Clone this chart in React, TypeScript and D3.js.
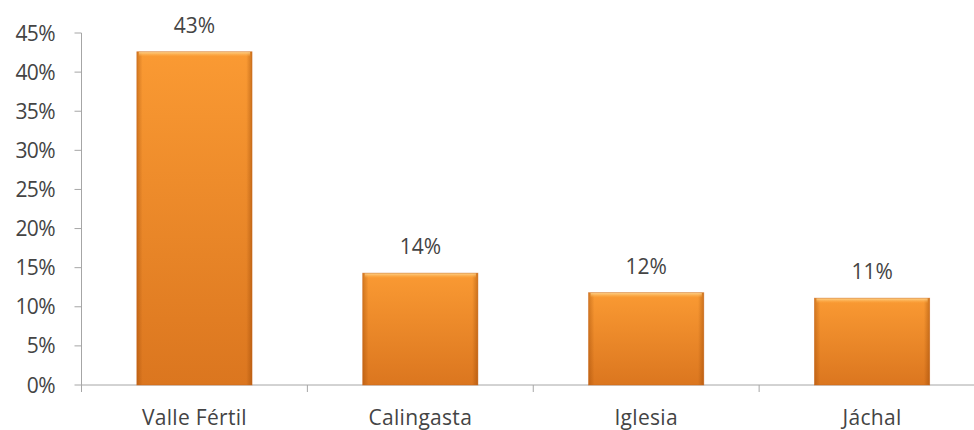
import React from "react";
import * as d3 from "d3";

const categories = ["Valle Fértil", "Calingasta", "Iglesia", "Jáchal"];
const values = [0.426, 0.143, 0.118, 0.111];
const valueLabels = ["43%", "14%", "12%", "11%"];
const yTicks = [0, 0.05, 0.1, 0.15, 0.2, 0.25, 0.3, 0.35, 0.4, 0.45];

const W = 974;
const H = 430;
const left = 81.5;
const right = 985;
const top = 33;
const bottom = 385;
const font = "'Open Sans', 'Noto Sans', sans-serif";

export default function App() {
  const x = d3.scaleBand<string>().domain(categories).range([left, right]).paddingInner(0.49).paddingOuter(0.245);
  const y = d3.scaleLinear().domain([0, 0.45]).range([bottom, top]);
  const step = x.step();
  const bw = x.bandwidth();
  const fmt = d3.format(".0%");

  return (
    <svg width={W} height={H} style={{ position: "absolute", left: 0, top: 0, background: "#fff" }}>
      <defs>
        <linearGradient id="vg" x1="0" y1="0" x2="0" y2="1">
          <stop offset="0" stopColor="#FA9A33" />
          <stop offset="1" stopColor="#DB761F" />
        </linearGradient>
        <linearGradient id="hg" x1="0" y1="0" x2="1" y2="0">
          <stop offset="0" stopColor="#8a3c00" stopOpacity="0.35" />
          <stop offset="0.05" stopColor="#8a3c00" stopOpacity="0" />
          <stop offset="0.95" stopColor="#8a3c00" stopOpacity="0" />
          <stop offset="1" stopColor="#8a3c00" stopOpacity="0.4" />
        </linearGradient>
        <linearGradient id="tg" x1="0" y1="0" x2="0" y2="1">
          <stop offset="0" stopColor="#FFE0A0" stopOpacity="0.9" />
          <stop offset="1" stopColor="#FFB24A" stopOpacity="0" />
        </linearGradient>
      </defs>
      {/* y axis */}
      <line x1={left} x2={left} y1={top} y2={bottom} stroke="#a6a6a6" strokeWidth={1} />
      {yTicks.map((t) => (
        <g key={t}>
          <line x1={left - 7} x2={left} y1={y(t)} y2={y(t)} stroke="#a6a6a6" />
          <text x={55} y={y(t)} dy="0.36em" textAnchor="end" fontFamily={font} fontSize={21} fill="#444" letterSpacing={-0.6}>
            {fmt(t)}
          </text>
        </g>
      ))}
      {/* x axis */}
      <line x1={left} x2={right} y1={bottom} y2={bottom} stroke="#a6a6a6" />
      {categories.map((c, i) => (
        <line key={"t" + i} x1={left + step * i} x2={left + step * i} y1={bottom} y2={bottom + 7} stroke="#a6a6a6" />
      ))}
      {categories.map((c, i) => {
        const bx = x(c)!;
        const by = y(values[i]);
        const bh = bottom - by;
        return (
          <g key={c}>
            <rect x={bx} y={by} width={bw} height={bh} fill="url(#vg)" />
            <rect x={bx} y={by} width={bw} height={bh} fill="url(#hg)" />
            <rect x={bx + 2} y={by} width={bw - 4} height={5} fill="url(#tg)" />
            <rect x={bx} y={by} width={bw} height={bh} fill="none" stroke="#c9651a" strokeOpacity={0.6} strokeWidth={0.8} />
            <text x={bx + bw / 2} y={by - 19} textAnchor="middle" fontFamily={font} fontSize={21} fill="#444">
              {valueLabels[i]}
            </text>
            <text x={bx + bw / 2} y={425} textAnchor="middle" fontFamily={font} fontSize={21} fill="#444" letterSpacing={0.3}>
              {c}
            </text>
          </g>
        );
      })}
    </svg>
  );
}
